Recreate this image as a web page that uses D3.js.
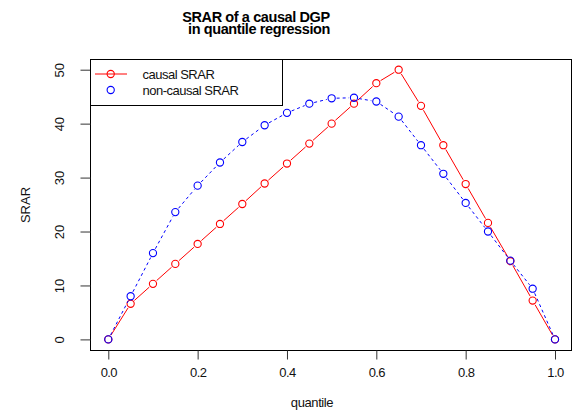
<!DOCTYPE html>
<html>
<head>
    <script src="https://cdn.jsdelivr.net/npm/d3@7"></script>
    <style>
        body { margin: 0; background: #fff; }
        text { font-family: "Liberation Sans", Arial, sans-serif; }
    </style>
</head>
<body>
<div id="chart"></div>
<script>
    // values
    var quantiles = [0, 0.05, 0.1, 0.15, 0.2, 0.25, 0.3, 0.35, 0.4, 0.45, 0.5,
                     0.55, 0.6, 0.65, 0.7, 0.75, 0.8, 0.85, 0.9, 0.95, 1];
    var causal = [0, 6.6, 10.3, 14.0, 17.7, 21.4, 25.1, 28.9, 32.6, 36.3, 40.0,
                  43.7, 47.5, 50.0, 43.3, 36.0, 28.8, 21.6, 14.5, 7.2, 0];
    var nonCausal = [0, 8.0, 16.0, 23.6, 28.5, 32.8, 36.6, 39.7, 42.0, 43.7, 44.7,
                     44.8, 44.1, 41.3, 36.0, 30.7, 25.3, 20.0, 14.6, 9.4, 0];
    var xTicks = [0, 0.2, 0.4, 0.6, 0.8, 1.0];
    var yTicks = [0, 10, 20, 30, 40, 50];
    var seriesNames = ["causal SRAR", "non-causal SRAR"];

    var W = 573, H = 411;
    var box = {left: 90.5, right: 571.5, top: 59.5, bottom: 350.5};

    var svg = d3.select("#chart").append("svg")
        .attr("width", W)
        .attr("height", H);

    var x = d3.scaleLinear().domain([0, 1]).range([108.3, 555]);
    var y = d3.scaleLinear().domain([0, 50]).range([339.4, 69.7]);

    // plot frame
    svg.append("rect")
        .attr("x", box.left).attr("y", box.top)
        .attr("width", box.right - box.left)
        .attr("height", box.bottom - box.top)
        .attr("fill", "none").attr("stroke", "#000");

    // x axis
    var xAxis = svg.append("g")
        .attr("transform", "translate(0," + box.bottom + ")")
        .call(d3.axisBottom(x).tickValues(xTicks).tickSize(9).tickPadding(8)
            .tickFormat(d3.format(".1f")));
    xAxis.select(".domain").remove();
    xAxis.selectAll("line").attr("stroke", "#333");
    xAxis.selectAll("text")
        .attr("fill", "#111")
        .style("font-size", "13px")
        .style("letter-spacing", "-0.6px")
        .style("font-family", "'Liberation Sans', Arial, sans-serif");

    // y axis with rotated labels
    var yAxis = svg.append("g")
        .attr("transform", "translate(" + box.left + ",0)")
        .call(d3.axisLeft(y).tickValues(yTicks).tickSize(10).tickFormat(d3.format("d")));
    yAxis.select(".domain").remove();
    yAxis.selectAll("line").attr("stroke", "#333");
    yAxis.selectAll("text")
        .attr("x", null).attr("dy", null)
        .attr("transform", "translate(-31,0)rotate(-90)")
        .attr("text-anchor", "middle")
        .attr("dominant-baseline", "central")
        .attr("fill", "#111")
        .style("font-size", "13px")
        .style("font-family", "'Liberation Sans', Arial, sans-serif");

    // titles
    svg.append("text")
        .attr("x", 256).attr("y", 21.5)
        .attr("text-anchor", "middle")
        .style("font-size", "14.5px").style("font-weight", "bold")
        .style("letter-spacing", "-0.4px")
        .text("SRAR of a causal DGP");
    svg.append("text")
        .attr("x", 259).attr("y", 34)
        .attr("text-anchor", "middle")
        .style("font-size", "14.5px").style("font-weight", "bold")
        .style("letter-spacing", "-0.4px")
        .text("in quantile regression");

    svg.append("text")
        .attr("x", 312).attr("y", 407)
        .attr("text-anchor", "middle")
        .style("font-size", "13px")
        .style("letter-spacing", "-0.4px")
        .attr("fill", "#111")
        .text("quantile");

    svg.append("text")
        .attr("transform", "translate(25,205)rotate(-90)")
        .attr("text-anchor", "middle")
        .attr("dominant-baseline", "central")
        .style("font-size", "13px")
        .attr("fill", "#111")
        .text("SRAR");

    // lines drawn R "type = b" style: segments with gaps round the points
    function drawSeries(vals, color, dash) {
        var pts = quantiles.map(function(q, i) { return [x(q), y(vals[i])]; });
        var gap = 5;
        var segs = [];
        for (var i = 0; i < pts.length - 1; i++) {
            var p = pts[i], q = pts[i + 1];
            var dx = q[0] - p[0], dy = q[1] - p[1];
            var len = Math.sqrt(dx * dx + dy * dy);
            if (len <= 2 * gap) continue;
            var ux = dx / len, uy = dy / len;
            segs.push([[p[0] + ux * gap, p[1] + uy * gap],
                       [q[0] - ux * gap, q[1] - uy * gap]]);
        }
        var g = svg.append("g");
        g.selectAll("line").data(segs).enter().append("line")
            .attr("x1", function(d) { return d[0][0]; })
            .attr("y1", function(d) { return d[0][1]; })
            .attr("x2", function(d) { return d[1][0]; })
            .attr("y2", function(d) { return d[1][1]; })
            .attr("stroke", color)
            .attr("stroke-width", 1)
            .attr("stroke-dasharray", dash);
        g.selectAll("circle").data(pts).enter().append("circle")
            .attr("cx", function(d) { return d[0]; })
            .attr("cy", function(d) { return d[1]; })
            .attr("r", 3.6)
            .attr("fill", "none")
            .attr("stroke", color)
            .attr("stroke-width", 1.1);
    }

    drawSeries(causal, "#ff0000", null);
    drawSeries(nonCausal, "#0000ff", "3,3");

    // legend
    var leg = svg.append("g");
    leg.append("rect")
        .attr("x", 90.5).attr("y", 59.5)
        .attr("width", 192).attr("height", 46)
        .attr("fill", "#fff").attr("stroke", "#000");
    leg.append("line")
        .attr("x1", 95).attr("x2", 127)
        .attr("y1", 74).attr("y2", 74)
        .attr("stroke", "#ff0000");
    leg.selectAll("circle").data(seriesNames).enter().append("circle")
        .attr("cx", 110.7)
        .attr("cy", function(d, i) { return 74 + i * 16; })
        .attr("r", 3.6)
        .attr("fill", "none")
        .attr("stroke", function(d, i) { return i == 0 ? "#ff0000" : "#0000ff"; })
        .attr("stroke-width", 1.1);
    leg.selectAll("text").data(seriesNames).enter().append("text")
        .attr("x", 142.5)
        .attr("y", function(d, i) { return 74 + i * 16; })
        .attr("dominant-baseline", "central")
        .style("font-size", "13px")
        .style("letter-spacing", "-0.5px")
        .attr("fill", "#111")
        .text(function(d) { return d; });
</script>
</body>
</html>
